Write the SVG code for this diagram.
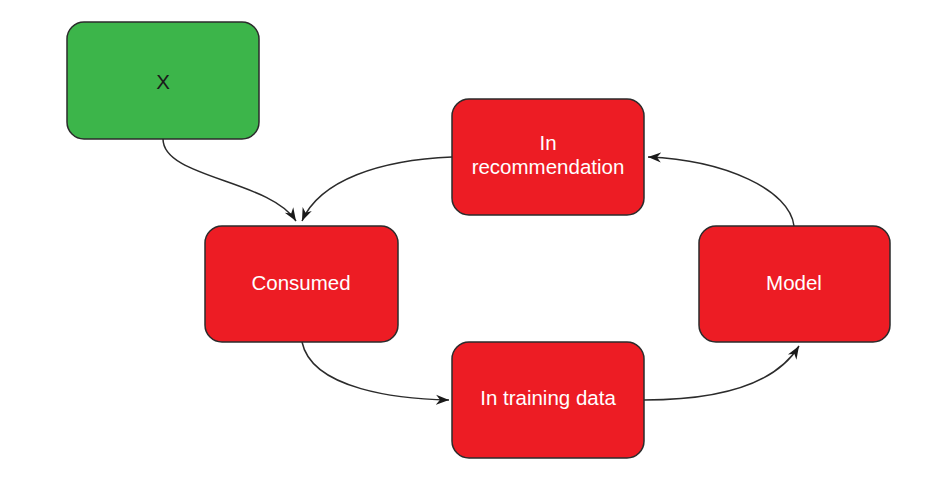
<svg xmlns="http://www.w3.org/2000/svg" width="937" height="490" viewBox="0 0 937 490">
<style>
.node rect{stroke:#2b2b2b;stroke-width:1.5}
.red rect{fill:#ed1c24}
.green rect{fill:#3cb54a}
.node text{font-family:"Liberation Sans",Arial,sans-serif;font-size:20.5px;text-anchor:middle}
.red text{fill:#ffffff}
.green text{fill:#1a1a1a}
.conn path{fill:none;stroke:#2b2b2b;stroke-width:1.5;marker-end:url(#arr)}
</style>
<defs>
<marker id="arr" markerUnits="userSpaceOnUse" markerWidth="14" markerHeight="12" viewBox="0 0 14 12" refX="13" refY="6" orient="auto">
<path d="M0,1 L13,6 L0,11 L4,6 Z" fill="#1a1a1a"/>
</marker>
</defs>
<rect width="937" height="490" fill="#ffffff"/>
<g id="connectors" class="conn">
<path d="M163,139 C163,178 270,180 296,221"/>
<path d="M452,157 C380,160 320,180 302,221"/>
<path d="M302,342 C312,390 400,399 449,400"/>
<path d="M644,400 C720,400 775,385 799,346"/>
<path d="M794,226 C790,190 725,160 648,157"/>
</g>
<g id="node-x" class="node green">
<rect x="67" y="22" width="192" height="117" rx="17"/>
<text x="163" y="89">X</text>
</g>
<g id="node-consumed" class="node red">
<rect x="205" y="226" width="193" height="116" rx="17"/>
<text x="301" y="290">Consumed</text>
</g>
<g id="node-recommendation" class="node red">
<rect x="452" y="99" width="192" height="116" rx="17"/>
<text x="548" y="150">In</text>
<text x="548" y="174">recommendation</text>
</g>
<g id="node-model" class="node red">
<rect x="699" y="226" width="191" height="116" rx="17"/>
<text x="794" y="290">Model</text>
</g>
<g id="node-training" class="node red">
<rect x="452" y="342" width="192" height="116" rx="17"/>
<text x="548" y="405">In training data</text>
</g>
</svg>
